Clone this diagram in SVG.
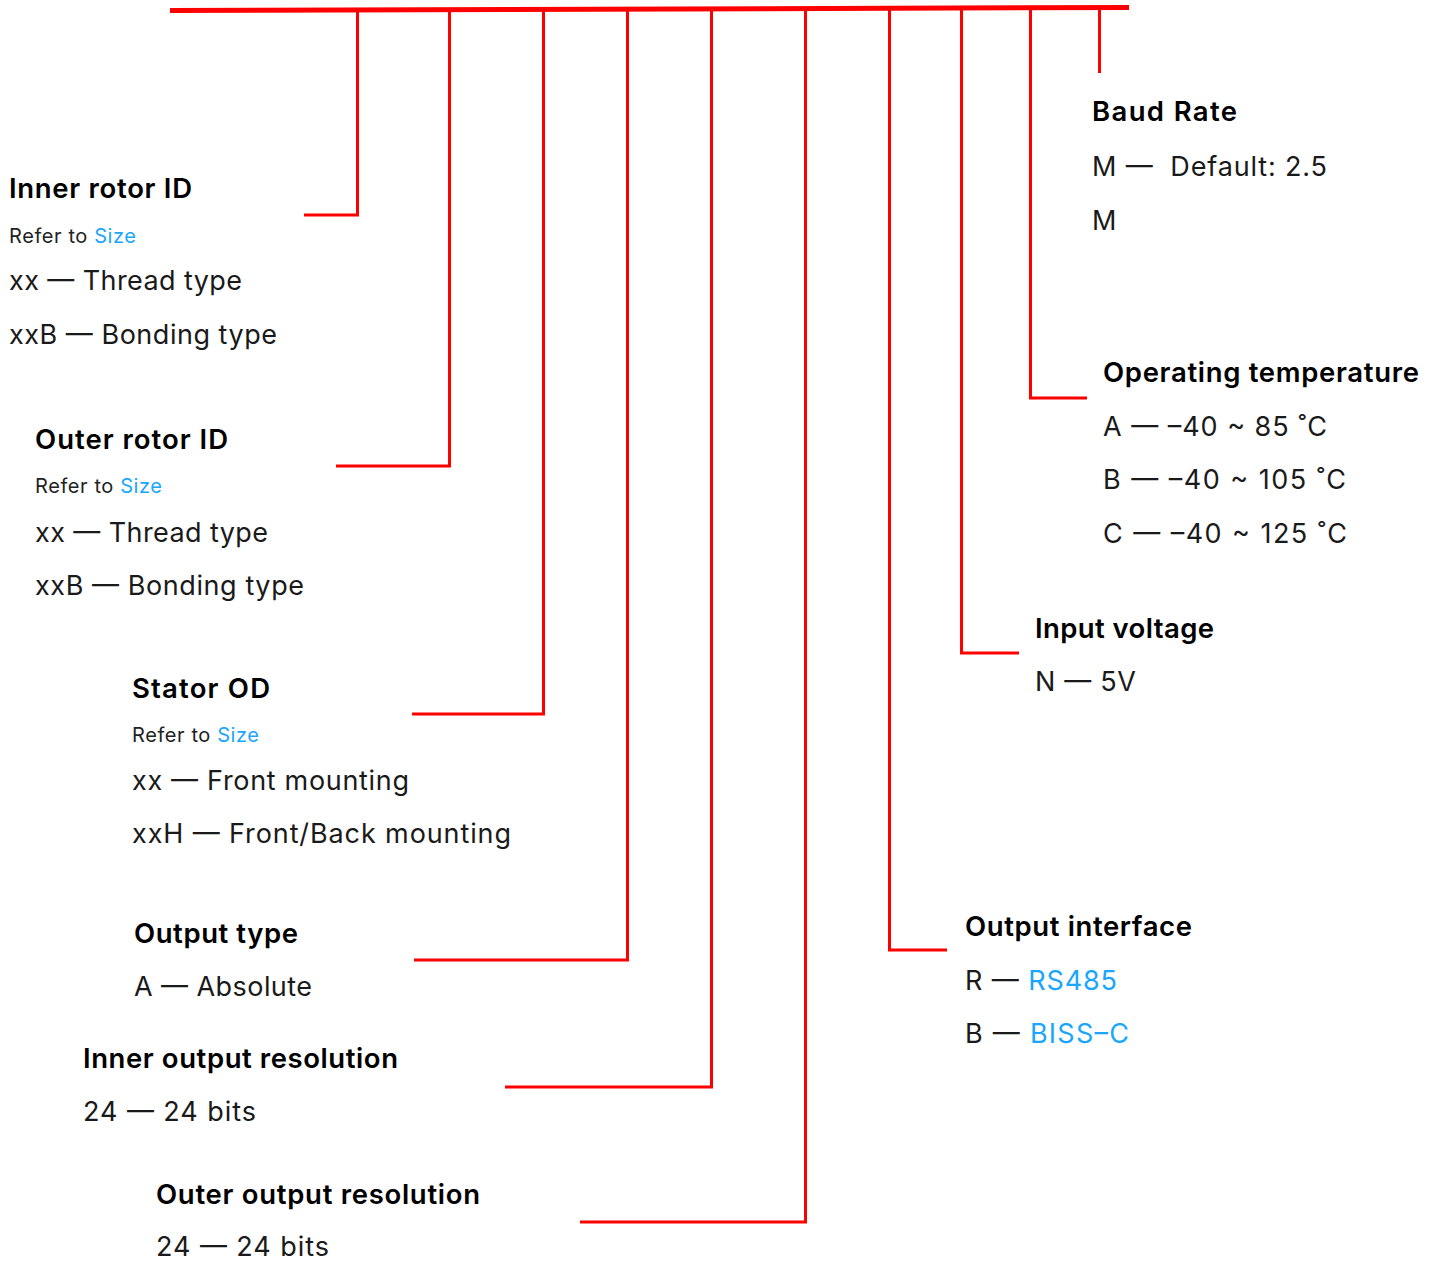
<svg xmlns="http://www.w3.org/2000/svg" width="1429" height="1263" viewBox="0 0 1429 1263">
  <style>
    text { font-family: Inter, "Liberation Sans", Arial, "Noto Sans CJK SC", sans-serif; }
    .title { font-size: 27.5px; font-weight: 600; fill: #000; }
    .ref { font-size: 20px; fill: #222; }
    .body { font-size: 27px; fill: #1a1a1a; }
    .link { fill: #1aa6ff; }
    .wire { fill: none; stroke: #ff0000; stroke-width: 3; stroke-linejoin: miter; }
    .bus { fill: none; stroke: #ff0000; stroke-width: 5; }
  </style>
  <rect width="1429" height="1263" fill="#fff"/>

  <!-- leader lines from the code bar to each field -->
  <g id="connectors">
    <path class="wire" d="M357.5 10 V215 H304"/>
    <path class="wire" d="M449.5 10 V466 H336"/>
    <path class="wire" d="M543.5 10 V714 H412"/>
    <path class="wire" d="M627.5 9 V960 H414"/>
    <path class="wire" d="M711.5 9 V1087 H505"/>
    <path class="wire" d="M805.5 9 V1222 H580"/>
    <path class="wire" d="M889.5 9 V950 H947"/>
    <path class="wire" d="M961.5 8 V653 H1019"/>
    <path class="wire" d="M1030.5 8 V398 H1087"/>
    <path class="wire" d="M1099.5 8 V73"/>
    <path class="bus" d="M170 10.5 L1129 7.5"/>
  </g>

  <g id="inner-rotor-id">
    <text class="title" x="9" y="198" textLength="183">Inner rotor ID</text>
    <text class="ref" x="9" y="243" textLength="127">Refer to <tspan class="link">Size</tspan></text>
    <text class="body" x="9" y="290" textLength="233">xx — Thread type</text>
    <text class="body" x="9" y="344" textLength="268">xxB — Bonding type</text>
  </g>

  <g id="outer-rotor-id">
    <text class="title" x="35" y="449" textLength="193">Outer rotor ID</text>
    <text class="ref" x="35" y="493" textLength="127">Refer to <tspan class="link">Size</tspan></text>
    <text class="body" x="35" y="542" textLength="233">xx — Thread type</text>
    <text class="body" x="35" y="595" textLength="269">xxB — Bonding type</text>
  </g>

  <g id="stator-od">
    <text class="title" x="132" y="698" textLength="138">Stator OD</text>
    <text class="ref" x="132" y="742" textLength="127">Refer to <tspan class="link">Size</tspan></text>
    <text class="body" x="132" y="790" textLength="277">xx — Front mounting</text>
    <text class="body" x="132" y="843" textLength="379">xxH — Front/Back mounting</text>
  </g>

  <g id="output-type">
    <text class="title" x="134" y="943" textLength="164">Output type</text>
    <text class="body" x="134" y="996" textLength="178">A — Absolute</text>
  </g>

  <g id="inner-output-resolution">
    <text class="title" x="83" y="1068" textLength="315">Inner output resolution</text>
    <text class="body" x="83" y="1121" textLength="173">24 — 24 bits</text>
  </g>

  <g id="outer-output-resolution">
    <text class="title" x="156" y="1204" textLength="324">Outer output resolution</text>
    <text class="body" x="156" y="1256" textLength="173">24 — 24 bits</text>
  </g>

  <g id="baud-rate">
    <text class="title" x="1092" y="121" textLength="145">Baud Rate</text>
    <text class="body" x="1092" y="176" textLength="235" xml:space="preserve">M —  Default: 2.5</text>
    <text class="body" x="1092" y="230">M</text>
  </g>

  <g id="operating-temperature">
    <text class="title" x="1103" y="382" textLength="316">Operating temperature</text>
    <text class="body" x="1103" y="436" textLength="224">A — –40 ~ 85 ˚C</text>
    <text class="body" x="1103" y="489" textLength="243">B — –40 ~ 105 ˚C</text>
    <text class="body" x="1103" y="543" textLength="244">C — –40 ~ 125 ˚C</text>
  </g>

  <g id="input-voltage">
    <text class="title" x="1035" y="638" textLength="179">Input voltage</text>
    <text class="body" x="1035" y="691" textLength="101">N — 5V</text>
  </g>

  <g id="output-interface">
    <text class="title" x="965" y="936" textLength="227">Output interface</text>
    <text class="body" x="965" y="990" textLength="152">R — <tspan class="link">RS485</tspan></text>
    <text class="body" x="965" y="1043" textLength="164">B — <tspan class="link">BISS–C</tspan></text>
  </g>
</svg>
